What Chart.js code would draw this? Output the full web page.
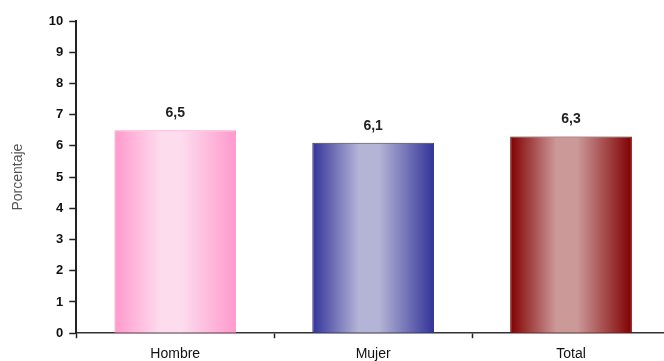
<!DOCTYPE html>
<html lang="es">
<head>
  <meta charset="UTF-8" />
  <title>Porcentaje por sexo</title>
  <script src="https://cdn.jsdelivr.net/npm/chart.js"></script>
  <style>
    html, body {
      margin: 0;
      padding: 0;
      background: #ffffff;
      overflow: hidden;
    }

    .wrap {
      width: 670px;
      height: 371px;
    }
  </style>
</head>
<body>

  <div class="wrap">
    <canvas id="sexChart" width="670" height="371"></canvas>
  </div>

  <script>
    const categories = ["Hombre", "Mujer", "Total"];
    const values = [6.5, 6.1, 6.3];
    const yTicks = [0, 1, 2, 3, 4, 5, 6, 7, 8, 9, 10];

    // edge and centre colour of each bar's shading
    const edgeColors = ["#ff99cc", "#333399", "#800000"];
    const lightColors = ["#fddcee", "#b4b4d6", "#cc9999"];

    const FONT = "'Liberation Sans', Arial, sans-serif";
    const fmt = v => v.toFixed(1).replace(".", ",");

    function barFill(ctx) {
      const chart = ctx.chart;
      const i = ctx.dataIndex;
      if (!chart.chartArea || i === undefined) return edgeColors[i] || "#999";
      const x = chart.scales.x;
      const center = x.getPixelForValue(i);
      const step = x.getPixelForValue(1) - x.getPixelForValue(0);
      const w = step * 0.615 / 2;
      const g = chart.ctx.createLinearGradient(center - w, 0, center + w, 0);
      g.addColorStop(0, edgeColors[i]);
      g.addColorStop(0.38, lightColors[i]);
      g.addColorStop(0.55, lightColors[i]);
      g.addColorStop(1, edgeColors[i]);
      return g;
    }

    // value written above each bar
    const valueLabels = {
      id: "valueLabels",
      afterDatasetsDraw(chart) {
        const c = chart.ctx;
        const meta = chart.getDatasetMeta(0);
        c.save();
        c.font = "bold 14px " + FONT;
        c.fillStyle = "#222";
        c.textAlign = "center";
        c.textBaseline = "bottom";
        meta.data.forEach((bar, i) => {
          c.fillText(fmt(values[i]), bar.x, bar.y - 10);
        });
        c.restore();
      }
    };

    new Chart(document.getElementById("sexChart"), {
      type: "bar",
      data: {
        labels: categories,
        datasets: [{
          data: values,
          backgroundColor: barFill,
          borderColor: edgeColors,
          borderWidth: 1,
          barPercentage: 0.615,
          categoryPercentage: 1
        }]
      },
      options: {
        responsive: false,
        animation: false,
        layout: { padding: { top: 21, right: 0, left: 10, bottom: 0 } },
        plugins: {
          legend: { display: false },
          tooltip: { enabled: false }
        },
        scales: {
          x: {
            grid: {
              display: true,
              drawOnChartArea: false,
              tickLength: 5,
              color: "#222",
              tickWidth: 1.5
            },
            border: { display: true, color: "#333", width: 1.5 },
            ticks: {
              color: "#111",
              padding: 8,
              font: { family: FONT, size: 14 }
            }
          },
          y: {
            min: 0,
            max: 10,
            afterBuildTicks: axis => {
              axis.ticks = yTicks.map(v => ({ value: v }));
            },
            grid: {
              display: true,
              drawOnChartArea: false,
              tickLength: 7,
              color: "#222",
              tickWidth: 1.5
            },
            border: { display: true, color: "#222", width: 2 },
            ticks: {
              color: "#111",
              padding: 6,
              font: { family: FONT, size: 13, weight: "bold" }
            },
            title: {
              display: true,
              text: "Porcentaje",
              color: "#555",
              padding: { top: 0, bottom: 16 },
              font: { family: FONT, size: 14 }
            }
          }
        }
      },
      plugins: [valueLabels]
    });
  </script>

</body>
</html>
